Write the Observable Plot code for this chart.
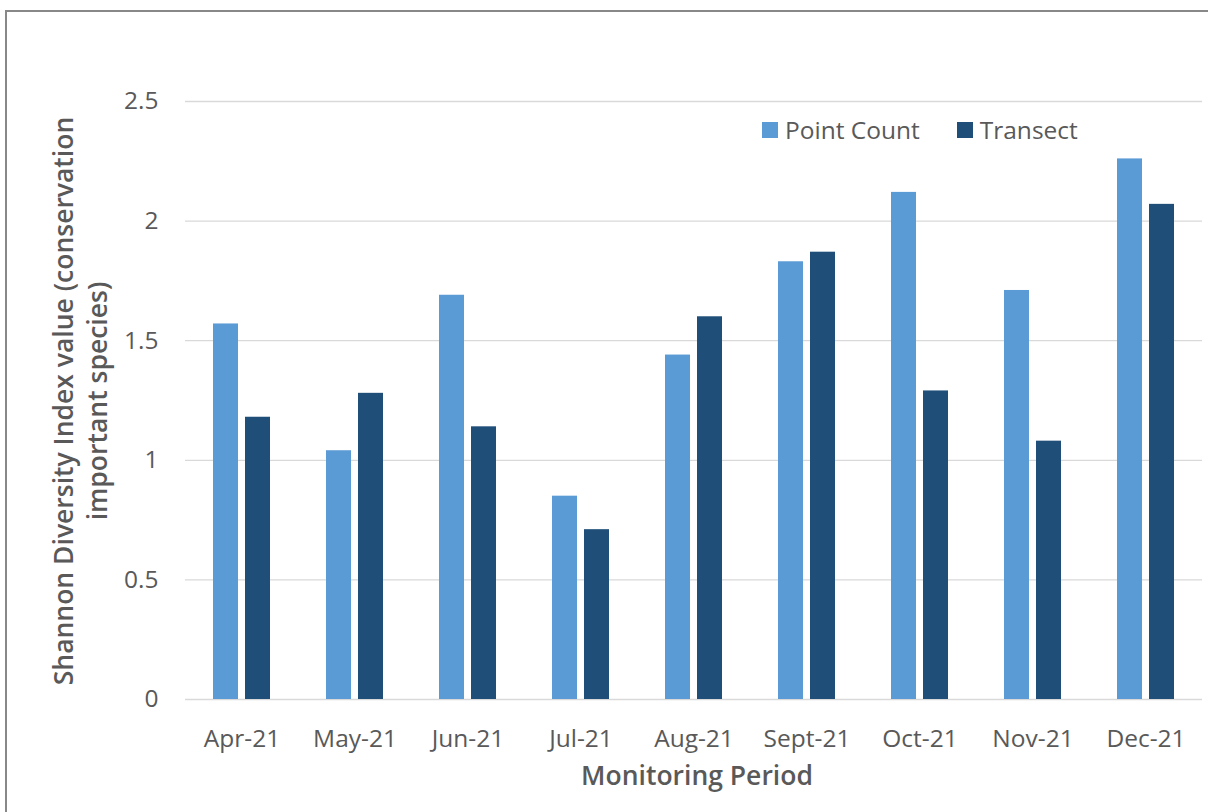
<!DOCTYPE html>
<html>
<head>
<meta charset="utf-8">
<script src="https://cdn.jsdelivr.net/npm/d3@7"></script>
<script src="https://cdn.jsdelivr.net/npm/@observablehq/plot@0.6"></script>
<style>
  html, body { margin: 0; padding: 0; background: #fff; }
  #wrap { position: relative; width: 1208px; height: 812px; overflow: hidden; font-family: "Open Sans", sans-serif; }
  #frame { position: absolute; left: 5px; top: 10px; width: 1220px; height: 820px; border-top: 2px solid #888; border-left: 2px solid #888; pointer-events: none; }
  #ytitle { position: absolute; left: 80px; top: 401px; transform: translate(-50%, -50%) rotate(-90deg); white-space: nowrap; text-align: center; font-size: 26.5px; font-weight: 600; color: #595959; line-height: 34px; }
  #xtitle { position: absolute; left: 697px; top: 775px; transform: translate(-50%, -50%); white-space: nowrap; font-size: 26.5px; font-weight: 600; color: #595959; }
  #legend { position: absolute; left: 762px; top: 113px; display: flex; align-items: center; font-size: 24.5px; color: #595959; }
  .sw { display: inline-block; width: 16px; height: 16px; margin-right: 7px; }
  .item { display: flex; align-items: center; margin-right: 37px; }
</style>
</head>
<body>
<div id="wrap">
  <div id="chart"></div>
  <div id="frame"></div>
  <div id="ytitle"></div>
  <div id="xtitle"></div>
  <div id="legend"></div>
</div>
<script>
const months = ["Apr-21", "May-21", "Jun-21", "Jul-21", "Aug-21", "Sept-21", "Oct-21", "Nov-21", "Dec-21"];
const series = ["Point Count", "Transect"];
const pointCount = [1.57, 1.04, 1.69, 0.85, 1.44, 1.83, 2.12, 1.71, 2.26];
const transect = [1.18, 1.28, 1.14, 0.71, 1.60, 1.87, 1.29, 1.08, 2.07];
const yTicks = [0, 0.5, 1, 1.5, 2, 2.5];
const colors = ["#5B9BD5", "#1F4E79"];
const yTitleLines = ["Shannon Diversity Index value (conservation", "important species)"];
const xTitle = "Monitoring Period";

const data = months.flatMap((m, i) => [
  {month: m, series: series[0], value: pointCount[i]},
  {month: m, series: series[1], value: transect[i]}
]);

const chart = Plot.plot({
  width: 1208,
  height: 812,
  marginLeft: 185,
  marginRight: 6,
  marginTop: 101,
  marginBottom: 113,
  style: {fontFamily: "Open Sans, sans-serif", fontSize: "24.5px", color: "#595959", background: "transparent"},
  fx: {domain: months, padding: 0, axis: "bottom", tickSize: 0, tickPadding: 30, label: null},
  x: {domain: series, axis: null, paddingInner: 0.22, paddingOuter: 0.875},
  y: {domain: [0, 2.5], ticks: yTicks, tickSize: 0, tickPadding: 27, label: null, tickFormat: d => String(d)},
  color: {domain: series, range: colors},
  marks: [
    Plot.ruleY(yTicks, {stroke: "#d9d9d9", strokeWidth: 1.3}),
    Plot.barY(data, {fx: "month", x: "series", y: "value", fill: "series"})
  ]
});
document.getElementById("chart").appendChild(chart);

const yt = document.getElementById("ytitle");
yt.innerHTML = yTitleLines.map(l => `<div>${l}</div>`).join("");
document.getElementById("xtitle").textContent = xTitle;
const lg = document.getElementById("legend");
series.forEach((s, i) => {
  const item = document.createElement("div");
  item.className = "item";
  item.innerHTML = `<span class="sw" style="background:${colors[i]}"></span><span>${s}</span>`;
  lg.appendChild(item);
});
</script>
</body>
</html>
